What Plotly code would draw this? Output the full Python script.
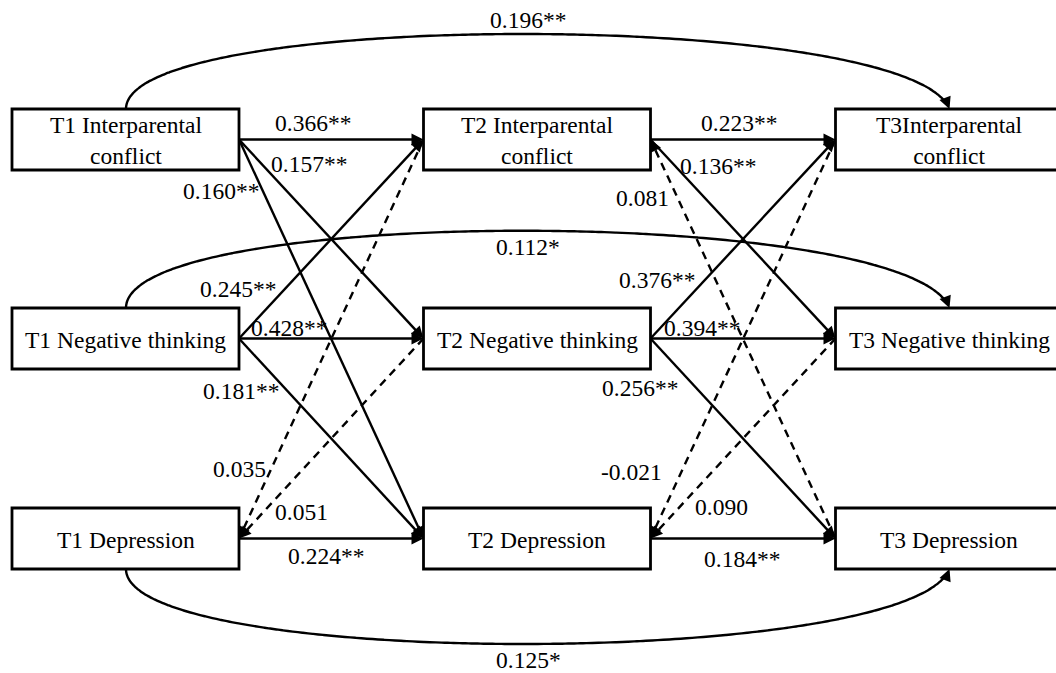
import numpy as np
import plotly.graph_objects as go

# ---------------- data ----------------
node_names = [
    "T1 Interparental<br>conflict", "T1 Negative thinking", "T1 Depression",
    "T2 Interparental<br>conflict", "T2 Negative thinking", "T2 Depression",
    "T3Interparental<br>conflict", "T3 Negative thinking", "T3 Depression",
]
node_wave = [1, 1, 1, 2, 2, 2, 3, 3, 3]
node_var = [0, 1, 2, 0, 1, 2, 0, 1, 2]

# straight paths (arrow points at target)
edge_src = [0, 0, 0, 1, 1, 1, 3, 4, 2,
            3, 3, 8, 4, 4, 4, 6, 7, 5]
edge_tgt = [3, 4, 5, 3, 4, 5, 2, 2, 5,
            6, 7, 3, 6, 7, 8, 5, 5, 8]
edge_coef = [0.366, 0.157, 0.160, 0.245, 0.428, 0.181, 0.035, 0.051, 0.224,
             0.223, 0.136, 0.081, 0.376, 0.394, 0.256, -0.021, 0.090, 0.184]
edge_sig = ["**", "**", "**", "**", "**", "**", "", "", "**",
            "**", "**", "", "**", "**", "**", "", "", "**"]

# curved paths T1 -> T3
curve_src = [0, 1, 2]
curve_tgt = [6, 7, 8]
curve_coef = [0.196, 0.112, 0.125]
curve_sig = ["**", "*", "*"]

# ---------------- layout / style ----------------
W, H = 1056, 673
col_left = {1: 12, 2: 423.5, 3: 835.5}
box_w = 227
row_top = [109, 308, 508]
box_h = 61

edge_label_pos = [
    (313, 123), (309, 164), (221, 191), (238, 289), (289, 328), (241, 391),
    (239, 469), (301, 512), (326, 556),
    (739, 123), (718, 166), (642, 198), (657, 280), (702, 328), (640, 388),
    (631, 472), (721, 507), (742, 559),
]
curve_side = ["top", "top", "bottom"]
curve_ctrl_y = [9, 205, 669]
curve_label_pos = [(528, 20), (528, 247), (528, 660)]

FONT = "Liberation Serif"
FS = 23.5
LW = 2.4


def box(i):
    x0 = col_left[node_wave[i]]
    y0 = row_top[node_var[i]]
    return x0, y0, x0 + box_w, y0 + box_h


def anchor(i, other):
    x0, y0, x1, y1 = box(i)
    ym = (y0 + y1) / 2
    if node_wave[other] > node_wave[i]:
        return np.array([x1, ym])
    return np.array([x0, ym])


fig = go.Figure()
annotations = []
shapes = []

# boxes and node labels
for i, name in enumerate(node_names):
    x0, y0, x1, y1 = box(i)
    shapes.append(dict(type="rect", xref="x", yref="y", x0=x0, y0=y0, x1=x1, y1=y1,
                       line=dict(color="black", width=2.8), fillcolor="white", layer="above"))
    annotations.append(dict(x=(x0 + x1) / 2, y=(y0 + y1) / 2 + 1, xref="x", yref="y",
                            text=name, showarrow=False,
                            font=dict(family=FONT, size=FS, color="black")))


def add_head(tip, d):
    d = d / np.linalg.norm(d)
    tail = tip - d * 12
    annotations.append(dict(x=tip[0], y=tip[1], ax=tail[0], ay=tail[1],
                            xref="x", yref="y", axref="x", ayref="y",
                            text="", showarrow=True, arrowhead=2, arrowsize=1.0,
                            arrowwidth=2.4, arrowcolor="black", standoff=0))


# straight edges
for k in range(len(edge_src)):
    s, t = edge_src[k], edge_tgt[k]
    p0 = anchor(s, t)
    p1 = anchor(t, s)
    d = p1 - p0
    u = d / np.linalg.norm(d)
    pe = p1 - u * 6
    dashed = edge_sig[k] == ""
    fig.add_trace(go.Scatter(x=[p0[0], pe[0]], y=[p0[1], pe[1]], mode="lines",
                             line=dict(color="black", width=LW,
                                       dash="8px,6px" if dashed else "solid"),
                             hoverinfo="skip", showlegend=False))
    add_head(p1, d)
    lx, ly = edge_label_pos[k]
    annotations.append(dict(x=lx, y=ly, xref="x", yref="y", showarrow=False,
                            text=f"{edge_coef[k]:.3f}{edge_sig[k]}",
                            font=dict(family=FONT, size=FS, color="black")))

# curved edges (cubic Bezier)
tt = np.linspace(0, 1, 200)
for k in range(len(curve_src)):
    s, t = curve_src[k], curve_tgt[k]
    sx0, sy0, sx1, sy1 = box(s)
    tx0, ty0, tx1, ty1 = box(t)
    if curve_side[k] == "top":
        P0 = np.array([sx0 + 114, sy0])
        P3 = np.array([tx0 + 114, ty0])
    else:
        P0 = np.array([sx0 + 114, sy1])
        P3 = np.array([tx0 + 114, ty1])
    yc = curve_ctrl_y[k]
    P1 = np.array([P0[0], yc])
    P2 = np.array([P3[0] - 40, yc])
    b = ((1 - tt) ** 3)[:, None] * P0 + (3 * tt * (1 - tt) ** 2)[:, None] * P1 \
        + (3 * tt ** 2 * (1 - tt))[:, None] * P2 + (tt ** 3)[:, None] * P3
    b = b[:-4]
    fig.add_trace(go.Scatter(x=b[:, 0], y=b[:, 1], mode="lines",
                             line=dict(color="black", width=LW, shape="spline"),
                             hoverinfo="skip", showlegend=False))
    add_head(P3, P3 - P2)
    lx, ly = curve_label_pos[k]
    annotations.append(dict(x=lx, y=ly, xref="x", yref="y", showarrow=False,
                            text=f"{curve_coef[k]:.3f}{curve_sig[k]}",
                            font=dict(family=FONT, size=FS, color="black")))

fig.update_layout(
    width=W, height=H, margin=dict(l=0, r=0, t=0, b=0),
    paper_bgcolor="white", plot_bgcolor="white",
    xaxis=dict(range=[0, W], visible=False, fixedrange=True),
    yaxis=dict(range=[H, 0], visible=False, fixedrange=True),
    shapes=shapes, annotations=annotations, showlegend=False,
)
fig.write_html("out.html", config={"displayModeBar": False},
               post_script="document.body.style.margin='0';")
